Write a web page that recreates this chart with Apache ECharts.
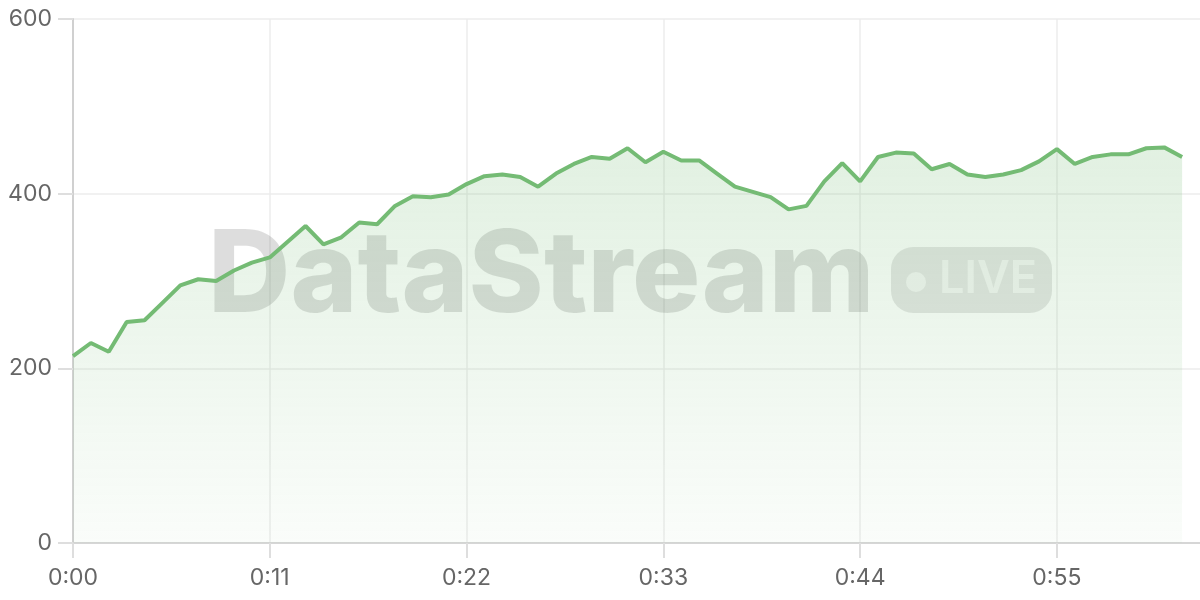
<!DOCTYPE html>
<html>
<head>
<meta charset="utf-8">
<style>
  html, body { margin: 0; padding: 0; background: #fff; }
  #main { width: 1200px; height: 600px; }
</style>
<script src="https://cdn.jsdelivr.net/npm/echarts@6/dist/echarts.min.js"></script>
</head>
<body>
<div id="main"></div>
<script>
// values, one per minute
const values = [
  214, 229, 219, 253, 255, 275, 295, 302, 300, 312,
  321, 327, 345, 363, 342, 350, 367, 365, 386, 397,
  396, 399, 411, 420, 422, 419, 408, 423, 434, 442,
  440, 452, 436, 448, 438, 438, 423, 408, 402, 396,
  382, 386, 414, 435, 414, 442, 447, 446, 428, 434,
  422, 419, 422, 427, 437, 451, 434, 442, 445, 445,
  452, 453, 442
];
const yTicks = [0, 200, 400, 600];

// one extra slot at the end so the line stops short of the right edge
const times = [];
for (let i = 0; i <= values.length; i++) {
  const m = i % 60;
  times.push(Math.floor(i / 60) + ':' + (m < 10 ? '0' + m : m));
}

const chart = echarts.init(document.getElementById('main'));

const option = {
  animation: false,
  textStyle: { fontFamily: 'Inter' },
  grid: { left: 73, right: 0, top: 19, bottom: 57 },
  xAxis: {
    type: 'category',
    boundaryGap: false,
    data: times,
    axisLine: { lineStyle: { color: '#d6d6d6', width: 2 } },
    axisTick: {
      show: true, inside: false, alignWithLabel: true, interval: 10, length: 15,
      lineStyle: { color: '#dedede', width: 2 }
    },
    axisLabel: { interval: 10, color: '#666', fontSize: 23, margin: 24 },
    splitLine: { show: true, interval: 10, lineStyle: { color: '#ececec', width: 1.5 } }
  },
  yAxis: {
    type: 'value',
    min: yTicks[0],
    max: yTicks[yTicks.length - 1],
    interval: 200,
    axisLine: { show: true, lineStyle: { color: '#d0d0d0', width: 2 } },
    axisTick: { show: true, inside: false, length: 15, lineStyle: { color: '#dedede', width: 2 } },
    axisLabel: { color: '#666', fontSize: 23, margin: 21 },
    splitLine: { lineStyle: { color: '#ececec', width: 1.5 } }
  },
  graphic: [
    {
      type: 'text',
      left: 208,
      top: 221,
      z: 1,
      style: {
        text: 'DataStream',
        font: '800 114px Inter',
        fill: 'rgba(0,0,0,0.135)'
      }
    },
    {
      type: 'rect',
      shape: { x: 891, y: 247, width: 161, height: 66, r: 22 },
      z: 1,
      style: { fill: 'rgba(0,0,0,0.1)' }
    },
    {
      type: 'circle',
      shape: { cx: 916, cy: 282, r: 10 },
      z: 1,
      style: { fill: 'rgba(255,255,255,0.6)' }
    },
    {
      type: 'text',
      left: 939,
      top: 257,
      z: 1,
      style: {
        text: 'LIVE',
        font: '600 45px Inter',
        fill: 'rgba(255,255,255,0.6)'
      }
    }
  ],
  series: [{
    type: 'line',
    data: values,
    showSymbol: false,
    z: 3,
    lineStyle: { color: '#74bb74', width: 4 },
    itemStyle: { color: '#74bb74' },
    areaStyle: {
      color: new echarts.graphic.LinearGradient(0, 0, 0, 1, [
        { offset: 0, color: 'rgba(116,187,116,0.3)' },
        { offset: 1, color: 'rgba(116,187,116,0.05)' }
      ])
    }
  }]
};

chart.setOption(option);
</script>
</body>
</html>
